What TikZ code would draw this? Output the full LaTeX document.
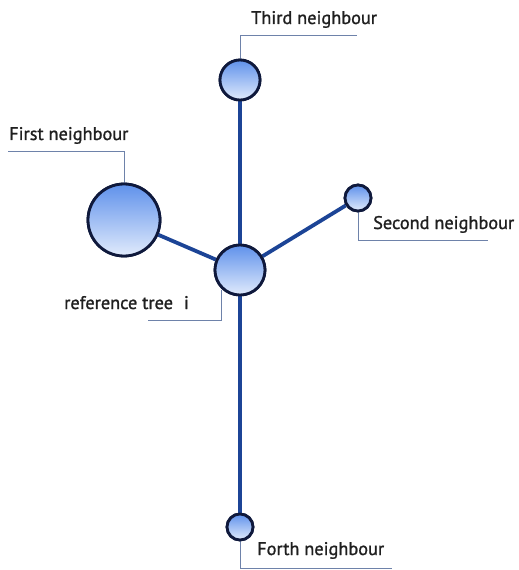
\documentclass[tikz,border=0pt]{standalone}
\usepackage{fontspec}
\setmainfont{PT Sans}
\newfontfamily\lblfont[FakeBold=1.2]{PT Sans}
\definecolor{edgeblue}{RGB}{28,68,150}
\definecolor{rimblue}{RGB}{15,25,60}
\definecolor{topblue}{RGB}{95,145,235}
\definecolor{botblue}{RGB}{225,235,252}
\definecolor{leadgray}{RGB}{110,130,170}
\begin{document}
\begin{tikzpicture}[x=1bp,y=-1bp,
  treenode/.style={circle,draw=rimblue,line width=2.8bp,top color=topblue,bottom color=botblue,minimum size=#1,inner sep=0pt},
  edge/.style={draw=edgeblue,line width=3.8bp},
  leader/.style={draw=leadgray,line width=1bp},
  lbl/.style={font=\lblfont\fontsize{18.3bp}{21bp}\selectfont,inner sep=0pt,text=black!88}]
\useasboundingbox (0,0) rectangle (519,570);
\node[treenode=50bp] (ref) at (240,270) {};
\node[treenode=40bp] (third) at (240,80) {};
\node[treenode=72bp] (first) at (124,220) {};
\node[treenode=26bp] (second) at (358,198) {};
\node[treenode=26bp] (forth) at (240,527) {};
\path[edge] (third) -- (ref);
\path[edge] (ref) -- (forth);
\path[edge] (ref) -- (first);
\path[edge] (ref) -- (second);
% leaders
\coordinate (t1) at (240,36); \coordinate (t2) at (357,36);
\path[leader] (third.north) -- (t1) -- (t2);
\coordinate (f1) at (124,152); \coordinate (f2) at (8,152);
\path[leader] (first.north) -- (f1) -- (f2);
\coordinate (r0) at (221,290); \coordinate (r1) at (221,320); \coordinate (r2) at (148,320);
\path[leader] (r0) -- (r1) -- (r2);
\coordinate (s1) at (358,240); \coordinate (s2) at (488,240);
\path[leader] (second.south) -- (s1) -- (s2);
\coordinate (o1) at (240,568); \coordinate (o2) at (392,568);
\path[leader] (forth.south) -- (o1) -- (o2);
% labels
\node[lbl,anchor=base west] (lt) at (251,24) {Third neighbour};
\node[lbl,anchor=base west] (lf) at (9,140) {First neighbour};
\node[lbl,anchor=base west] (lr) at (64,309) {reference tree\hspace{11bp}i};
\node[lbl,anchor=base west] (ls) at (373,229) {Second neighbour};
\node[lbl,anchor=base west] (lo) at (257,555) {Forth neighbour};
% redraw nodes on top of edges
\node[treenode=50bp] at (ref) {};
\node[treenode=40bp] at (third) {};
\node[treenode=72bp] at (first) {};
\node[treenode=26bp] at (second) {};
\node[treenode=26bp] at (forth) {};
\end{tikzpicture}
\end{document}
